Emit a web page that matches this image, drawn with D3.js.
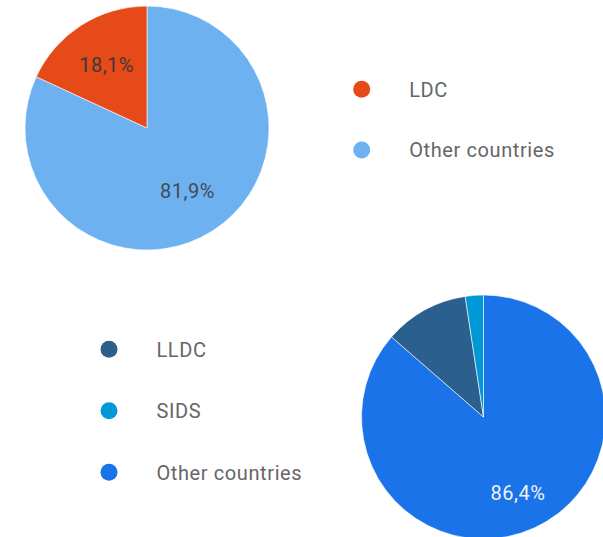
<!DOCTYPE html>
<html><head><meta charset="utf-8">
<script src="https://cdn.jsdelivr.net/npm/d3@7"></script>
<style>body{margin:0;background:#fff;overflow:hidden}svg{display:block;font-family:Roboto,sans-serif}</style>
</head><body>
<svg id="c" width="603" height="537"></svg>
<script>
// Chart 1
const cats1 = ["LDC", "Other countries"];
const vals1 = [18.1, 81.9];
const labels1 = ["18,1%", "81,9%"];
const sliceOrder1 = [1, 0]; // clockwise from 12 o'clock
const colors1 = ["#E64A19", "#6DB1F0"];
const labelColors1 = ["#3a3a3a", "#424c58"];
// Chart 2
const cats2 = ["LLDC", "SIDS", "Other countries"];
const vals2 = [11.2, 2.4, 86.4];
const labels2 = ["", "", "86,4%"];
const sliceOrder2 = [2, 0, 1];
const colors2 = ["#2A5F8E", "#0098D6", "#1A73E8"];
const labelColors2 = ["#fff", "#fff", "#eef2fa"];

const svg = d3.select("#c");

function drawPie(cx, cy, r, order, vals, labels, colors, lcols, labelR) {
  const pie = d3.pie().sort(null).value(i => vals[i]);
  const arcs = pie(order);
  const arc = d3.arc().innerRadius(0).outerRadius(r);
  const larc = d3.arc().innerRadius(labelR).outerRadius(labelR);
  const g = svg.append("g").attr("transform", `translate(${cx},${cy})`);
  g.selectAll("path").data(arcs).join("path")
    .attr("d", arc).attr("fill", d => colors[d.data])
    .attr("stroke", "#fff").attr("stroke-width", 0.6);
  g.selectAll("text").data(arcs).join("text")
    .attr("transform", d => `translate(${larc.centroid(d)})`)
    .attr("text-anchor", "middle").attr("dy", "0.36em")
    .attr("font-size", 20).attr("letter-spacing", 0.5)
    .attr("fill", d => lcols[d.data])
    .text(d => labels[d.data]);
}

function drawLegend(x, y, step, cats, colors) {
  const g = svg.append("g");
  const items = g.selectAll("g").data(cats).join("g")
    .attr("transform", (d, i) => `translate(${x},${y + i * step})`);
  items.append("circle").attr("r", 8.5).attr("fill", (d, i) => colors[i]);
  items.append("text").attr("x", 47.5).attr("dy", "0.36em")
    .attr("font-size", 20).attr("letter-spacing", 0.6)
    .attr("fill", "#666").text(d => d);
}

drawPie(147, 128, 122, sliceOrder1, vals1, labels1, colors1, labelColors1, 75);
drawLegend(361.7, 89.3, 60.7, cats1, colors1);
drawPie(483.5, 417, 122, sliceOrder2, vals2, labels2, colors2, labelColors2, 83);
drawLegend(109, 349.3, 61.5, cats2, colors2);
</script>
</body></html>
